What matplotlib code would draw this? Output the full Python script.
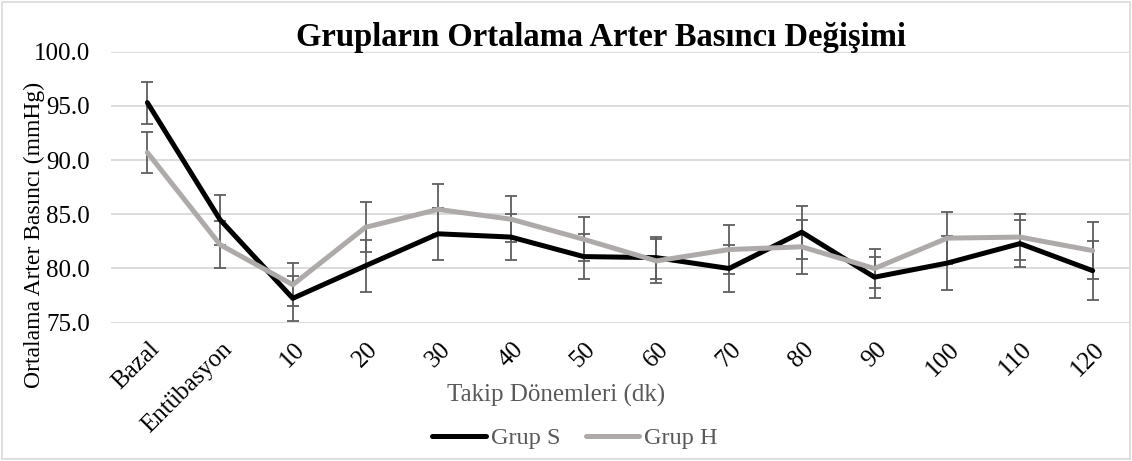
import matplotlib
matplotlib.use("Agg")
import matplotlib.pyplot as plt
import matplotlib.transforms as mtransforms
from matplotlib.patches import Rectangle
import numpy as np

categories = ["Bazal", "Entübasyon", "10", "20", "30", "40", "50", "60", "70", "80", "90", "100", "110", "120"]
grup_s = [95.3, 84.5, 77.25, 80.25, 83.2, 82.9, 81.1, 81.0, 80.0, 83.35, 79.2, 80.5, 82.3, 79.8]
grup_s_err = [1.95, 2.3, 2.05, 2.4, 2.4, 2.15, 2.1, 1.95, 2.2, 2.45, 1.9, 2.5, 2.15, 2.7]
grup_h = [90.7, 82.2, 78.5, 83.8, 85.45, 84.55, 82.7, 80.7, 81.75, 82.0, 80.0, 82.8, 82.9, 81.65]
grup_h_err = [1.9, 2.2, 2.0, 2.3, 2.3, 2.1, 2.05, 2.0, 2.25, 2.5, 1.8, 2.4, 2.15, 2.6]
yticks = [75.0, 80.0, 85.0, 90.0, 95.0, 100.0]

plt.rcParams['font.family'] = ['Liberation Serif', 'DejaVu Serif']

W, H = 1132, 461
fig = plt.figure(figsize=(W / 100, H / 100), dpi=100)
ax = fig.add_axes([111 / W, 1 - 322.7 / H, (1129 - 111) / W, (322.7 - 51.7) / H])

x = np.arange(len(categories))
err_color = '#5f5f5f'
ax.errorbar(x, grup_s, yerr=grup_s_err, fmt='none', ecolor=err_color, elinewidth=1.3,
            capsize=4.5, capthick=1.3, zorder=2)
ax.errorbar(x, grup_h, yerr=grup_h_err, fmt='none', ecolor=err_color, elinewidth=1.3,
            capsize=4.5, capthick=1.3, zorder=2)
l1, = ax.plot(x, grup_s, color='black', lw=3.6, solid_joinstyle='round', solid_capstyle='round',
              zorder=3, label='Grup S')
l2, = ax.plot(x, grup_h, color='#AEAAAA', lw=3.6, solid_joinstyle='round', solid_capstyle='round',
              zorder=4, label='Grup H')

ax.set_xlim(-0.5, len(categories) - 0.5)
ax.set_ylim(75, 100)
ax.set_yticks(yticks)
ax.set_yticklabels([f"{v:.1f}" for v in yticks], fontsize=18)
ax.yaxis.grid(True, color='#D9D9D9', lw=1.3)
ax.set_axisbelow(True)
for s in ax.spines.values():
    s.set_visible(False)
ax.tick_params(axis='y', length=0, pad=15)
ax.tick_params(axis='x', length=0, pad=11)
ax.set_xticks(x)
ax.set_xticklabels(categories, fontsize=18, rotation=45, ha='right', va='top',
                   rotation_mode='anchor')
off = mtransforms.ScaledTranslation(1 / 100, 0, fig.dpi_scale_trans)
for lab in ax.get_xticklabels():
    lab.set_transform(lab.get_transform() + off)

fig.text(601 / W, 1 - 46 / H, "Grupların Ortalama Arter Basıncı Değişimi", ha='center',
         va='baseline', fontsize=23.5, fontweight='bold')
fig.text(34 / W, 1 - 235 / H, "Ortalama Arter Basıncı (mmHg)", rotation=90, ha='center',
         va='center', fontsize=17)
fig.text(556 / W, 1 - 395 / H, "Takip Dönemleri (dk)", ha='center', va='center', fontsize=18,
         color='#595959')

leg = fig.legend(handles=[l1, l2], loc='center', bbox_to_anchor=(575 / W, 1 - 438 / H), ncol=2,
                 frameon=False, fontsize=17.5, handlelength=2.2, handletextpad=0.2,
                 columnspacing=1.05, labelcolor='#595959')

fig.patches.append(Rectangle((2 / W, 2 / H), (W - 4) / W, (H - 4) / H, transform=fig.transFigure,
                             fill=False, edgecolor='#D9D9D9', lw=1.2))

fig.savefig("out.png", dpi=100)
